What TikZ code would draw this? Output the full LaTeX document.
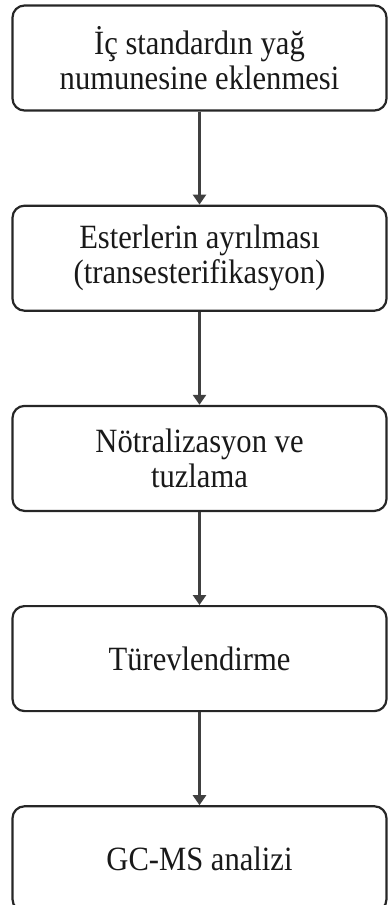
\documentclass[tikz,border=0pt]{standalone}
\usepackage{fontspec}
\setmainfont{Liberation Serif}[FakeStretch=0.9]
\usetikzlibrary{arrows.meta,positioning}

\begin{document}
\begin{tikzpicture}[x=1pt,y=1pt,
		stepbox/.style={draw,line width=2.2pt,draw=black!85,rounded corners=12pt,minimum width=374pt,minimum height=105pt,
			align=center,inner sep=0pt,text=black!90,font=\fontsize{34}{35}\selectfont},
		flow/.style={-{Triangle[length=10pt,width=13pt]},line width=2.6pt,draw=black!75}]
		\useasboundingbox (0,0) rectangle (388,-905);
		% steps
		\node[stepbox] (ekleme) at (199.5,-58) {İç standardın yağ\\numunesine eklenmesi};
		\node[stepbox,below=93pt of ekleme] (ayirma) {Esterlerin ayrılması\\(transesterifikasyon)};
		\node[stepbox,below=93pt of ayirma] (notral) {Nötralizasyon ve\\tuzlama};
		\node[stepbox,below=93pt of notral] (turev) {Türevlendirme};
		\node[stepbox,below=93pt of turev] (gcms) {GC-MS analizi};
		% arrows
		\foreach \a/\b in {ekleme/ayirma,ayirma/notral,notral/turev,turev/gcms}
			\draw[flow] (\a) -- (\b);
\end{tikzpicture}
\end{document}
